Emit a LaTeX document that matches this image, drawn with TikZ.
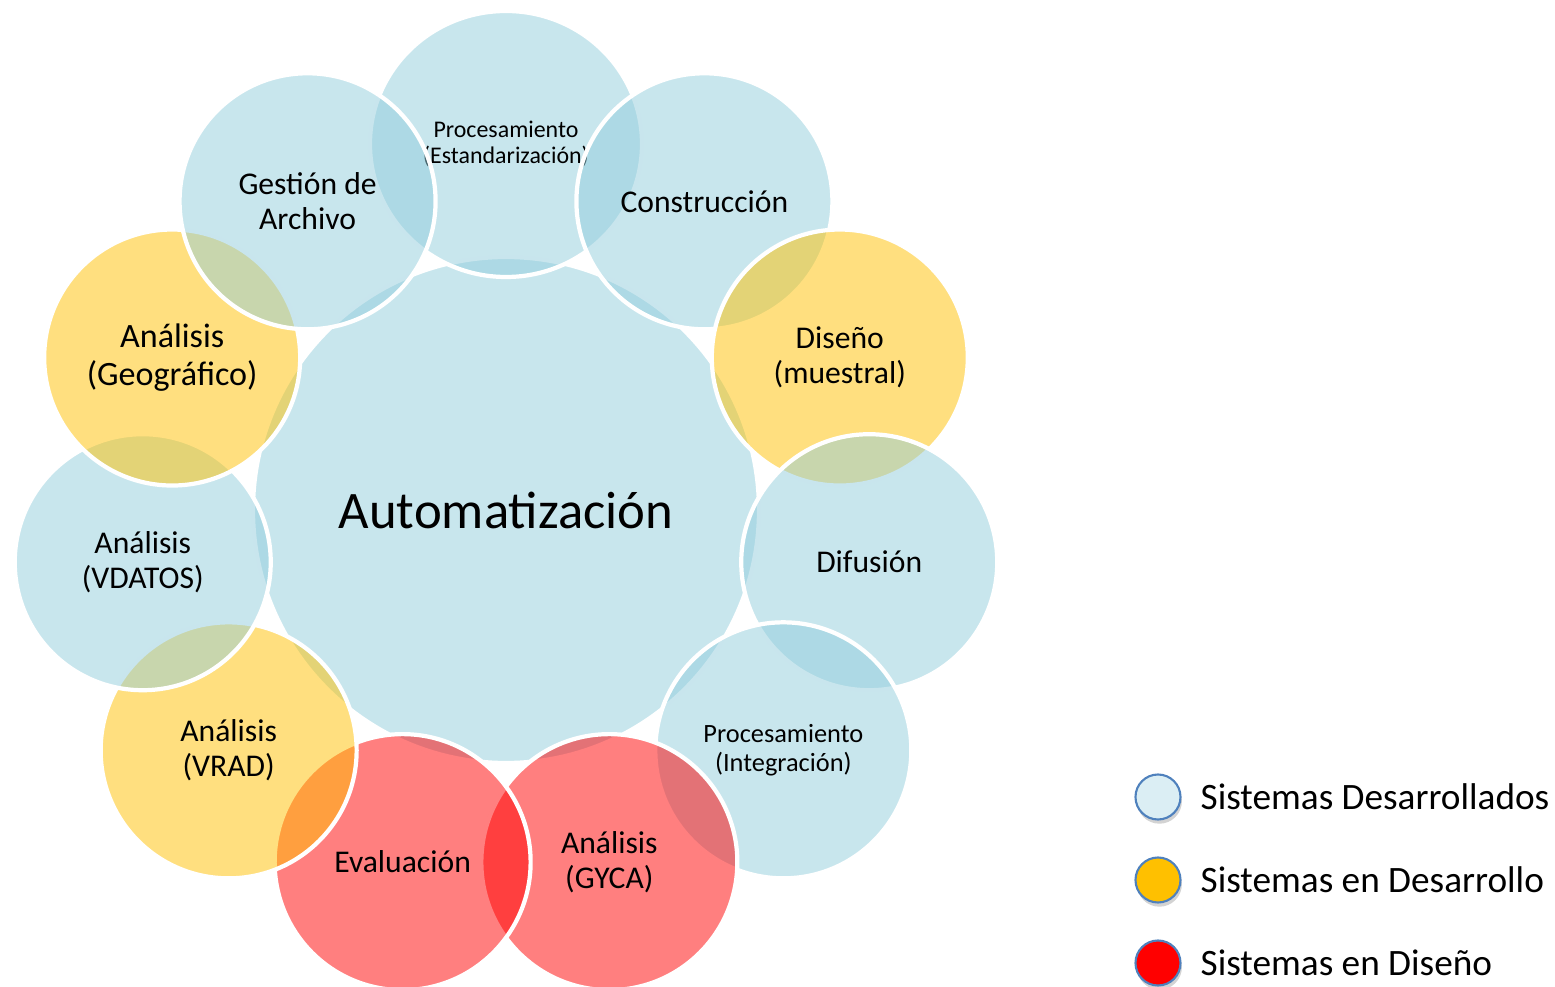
\documentclass[tikz,border=0pt]{standalone}
\usepackage{fontspec}
\setmainfont{Carlito}
\usetikzlibrary{shadows, shapes.geometric}

\definecolor{devblue}{RGB}{146,205,220}
\definecolor{workyellow}{RGB}{255,192,0}
\definecolor{planred}{RGB}{255,0,0}
\definecolor{keyblue}{RGB}{219,238,244}
\definecolor{keyedge}{RGB}{79,129,189}

\begin{document}
\begin{tikzpicture}[
    sys/.style={circle, minimum size=2.56cm, inner sep=0pt, draw=white, line width=1.2pt,
        fill opacity=0.5, text opacity=1, align=center, font=\fontsize{9}{10}\selectfont},
    done/.style={sys, fill=devblue},
    doing/.style={sys, fill=workyellow},
    todo/.style={sys, fill=planred},
    key/.style={circle, minimum size=0.45cm, draw=keyedge, line width=0.6pt,
        drop shadow={opacity=0.35, shadow xshift=0.4pt, shadow yshift=-1.2pt}},
    keytext/.style={anchor=west, inner sep=0pt, font=\fontsize{10.6}{12}\selectfont}
]
    % slide area
    \useasboundingbox (-5.06,-4.77) rectangle (10.49,5.10);

    % hub and the eleven systems, clockwise from the top
    \node[done, minimum size=5.06cm, font=\fontsize{15}{18}\selectfont] (auto) at (0,0) {Automatización};
    \node[done, ellipse, minimum width=2.72cm, minimum height=2.66cm,
        font=\fontsize{6.8}{7.4}\selectfont] (est) at (0,3.66) {Procesamiento\\(Estandarización)};
    \node[done] (cons) at (57.27:3.67) {Construcción};
    \node[doing] (dis) at (24.55:3.67) {Diseño\\(muestral)};
    \node[done] (dif) at (-8.18:3.67) {Difusión};
    \node[done, font=\fontsize{7.5}{8.3}\selectfont] (integ) at (-40.91:3.67) {Procesamiento\\(Integración)};
    \node[todo] (gyca) at (-73.64:3.67) {Análisis\\(GYCA)};
    \node[todo] (eval) at (-106.36:3.67) {Evaluación};
    \node[doing] (vrad) at (-139.09:3.67) {Análisis\\(VRAD)};
    \node[done] (vdatos) at (-171.82:3.67) {Análisis\\(VDATOS)};
    \node[doing, font=\fontsize{9.7}{10.6}\selectfont] (geo) at (155.45:3.67) {Análisis\\(Geográfico)};
    \node[done] (arch) at (122.73:3.67) {Gestión de\\Archivo};

    % legend
    \node[key, fill=keyblue] (k1) at (6.52,-2.87) {};
    \node[key, fill=workyellow] (k2) at (6.52,-3.70) {};
    \node[key, fill=planred] (k3) at (6.52,-4.53) {};
    \node[keytext] (t1) at (6.94,-2.87) {Sistemas Desarrollados};
    \node[keytext] (t2) at (6.94,-3.70) {Sistemas en Desarrollo};
    \node[keytext] (t3) at (6.94,-4.53) {Sistemas en Diseño};
\end{tikzpicture}
\end{document}
